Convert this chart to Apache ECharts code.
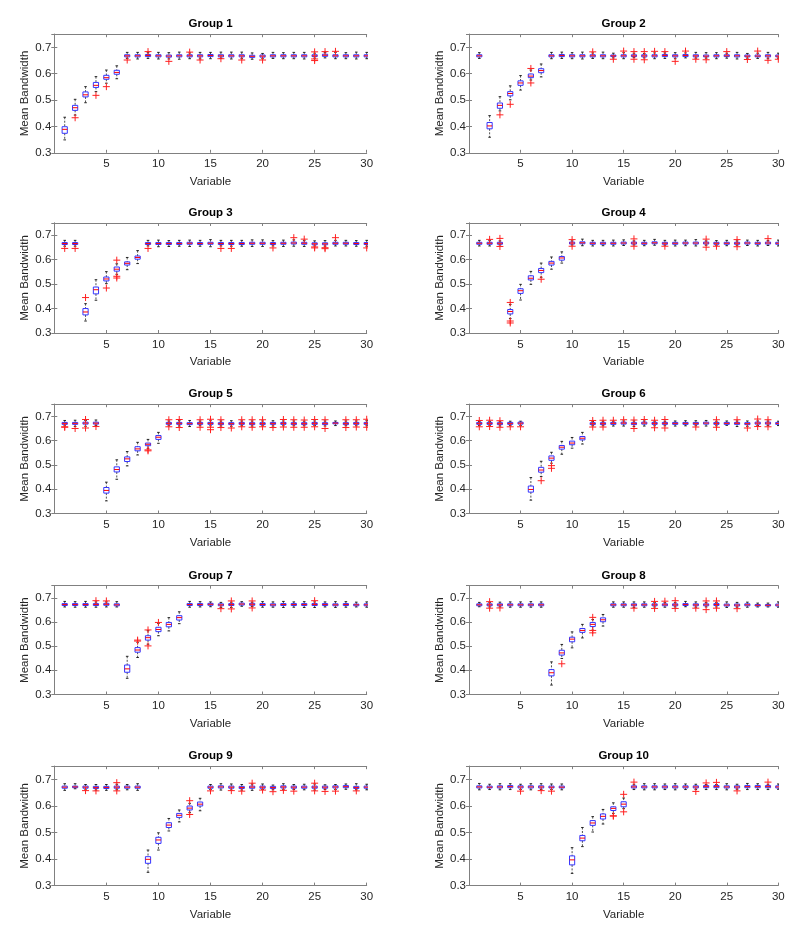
<!DOCTYPE html>
<html><head><meta charset="utf-8">
<script src="https://cdn.jsdelivr.net/npm/echarts@6/dist/echarts.min.js"></script>
<style>html,body{margin:0;padding:0;background:#fff}#c{width:810px;height:941px}</style>
</head><body><div id="c"></div><script>
// ---------- data ----------
// each box: [lowerWhisker, q1, median, q3, upperWhisker], variables 1..30
const groupTitles = ['Group 1','Group 2','Group 3','Group 4','Group 5','Group 6','Group 7','Group 8','Group 9','Group 10'];
const xTickLabels = [5, 10, 15, 20, 25, 30];
const yTickLabels = [0.3, 0.4, 0.5, 0.6, 0.7];

const g1Box = [
[0.349,0.374,0.389,0.399,0.435],[0.443,0.461,0.471,0.480,0.503],[0.490,0.512,0.520,0.531,0.551],
[0.532,0.548,0.556,0.567,0.589],[0.564,0.579,0.585,0.594,0.614],[0.581,0.598,0.605,0.613,0.630],
[0.658,0.664,0.668,0.672,0.681],[0.656,0.664,0.668,0.672,0.681],[0.658,0.665,0.669,0.673,0.680],
[0.656,0.664,0.668,0.672,0.681],[0.656,0.663,0.667,0.671,0.680],[0.655,0.664,0.668,0.672,0.682],
[0.657,0.664,0.668,0.672,0.679],[0.656,0.664,0.668,0.672,0.681],[0.657,0.665,0.669,0.673,0.681],
[0.658,0.664,0.668,0.672,0.682],[0.656,0.664,0.668,0.672,0.682],[0.657,0.664,0.668,0.672,0.682],
[0.655,0.662,0.666,0.670,0.679],[0.657,0.663,0.667,0.671,0.677],[0.658,0.664,0.668,0.672,0.681],
[0.657,0.664,0.668,0.672,0.680],[0.657,0.664,0.668,0.672,0.681],[0.656,0.664,0.668,0.672,0.681],
[0.659,0.665,0.668,0.672,0.678],[0.660,0.666,0.670,0.674,0.681],[0.657,0.664,0.668,0.672,0.681],
[0.657,0.664,0.668,0.672,0.680],[0.656,0.664,0.668,0.672,0.682],[0.657,0.664,0.668,0.672,0.681]];
const g1Out = [[2,0.433],[4,0.518],[5,0.551],[7,0.652],[9,0.684],[11,0.647],[13,0.682],[14,0.652],[16,0.657],
[18,0.652],[20,0.652],[25,0.683],[25,0.656],[25,0.650],[26,0.684],[27,0.685]];

const g2Box = [
[0.658,0.664,0.668,0.672,0.680],[0.359,0.391,0.402,0.415,0.441],[0.459,0.469,0.480,0.489,0.513],
[0.501,0.516,0.525,0.532,0.554],[0.538,0.556,0.565,0.573,0.593],[0.576,0.585,0.591,0.599,0.614],
[0.588,0.604,0.612,0.619,0.637],[0.657,0.664,0.668,0.672,0.681],[0.658,0.665,0.669,0.673,0.682],
[0.657,0.664,0.668,0.672,0.680],[0.656,0.664,0.668,0.672,0.682],[0.658,0.664,0.668,0.672,0.679],
[0.657,0.664,0.668,0.672,0.682],[0.660,0.665,0.668,0.671,0.678],[0.657,0.664,0.668,0.672,0.680],
[0.661,0.665,0.668,0.672,0.678],[0.660,0.664,0.668,0.672,0.677],[0.657,0.664,0.668,0.672,0.679],
[0.658,0.665,0.669,0.673,0.679],[0.657,0.664,0.668,0.672,0.680],[0.660,0.665,0.669,0.673,0.679],
[0.659,0.664,0.668,0.672,0.681],[0.659,0.664,0.667,0.671,0.680],[0.657,0.664,0.668,0.672,0.680],
[0.659,0.665,0.668,0.672,0.678],[0.656,0.664,0.668,0.672,0.681],[0.659,0.664,0.667,0.671,0.677],
[0.658,0.664,0.667,0.671,0.678],[0.657,0.664,0.668,0.672,0.681],[0.659,0.664,0.667,0.671,0.678]];
const g2Out = [[3,0.444],[4,0.484],[6,0.620],[6,0.565],[12,0.683],[14,0.655],[15,0.686],[16,0.684],[16,0.655],
[17,0.684],[17,0.653],[18,0.685],[19,0.684],[20,0.647],[21,0.686],[22,0.655],[23,0.653],[25,0.684],
[27,0.654],[28,0.686],[29,0.651],[30,0.655]];

const g3Box = [
[0.655,0.662,0.666,0.670,0.679],[0.655,0.662,0.666,0.670,0.679],[0.349,0.374,0.386,0.400,0.420],
[0.434,0.460,0.477,0.488,0.518],[0.502,0.513,0.521,0.529,0.551],[0.540,0.553,0.561,0.570,0.583],
[0.559,0.578,0.585,0.591,0.609],[0.584,0.602,0.609,0.615,0.637],[0.656,0.662,0.666,0.670,0.679],
[0.653,0.662,0.666,0.670,0.680],[0.654,0.662,0.666,0.670,0.678],[0.655,0.662,0.666,0.670,0.679],
[0.654,0.663,0.667,0.671,0.680],[0.655,0.662,0.666,0.670,0.679],[0.653,0.663,0.667,0.671,0.682],
[0.656,0.662,0.666,0.670,0.679],[0.655,0.662,0.666,0.670,0.679],[0.655,0.662,0.666,0.670,0.679],
[0.654,0.663,0.667,0.671,0.681],[0.654,0.663,0.667,0.671,0.681],[0.656,0.662,0.666,0.670,0.678],
[0.654,0.663,0.667,0.671,0.680],[0.655,0.664,0.668,0.672,0.681],[0.654,0.663,0.667,0.671,0.679],
[0.656,0.661,0.665,0.669,0.677],[0.655,0.661,0.665,0.669,0.678],[0.656,0.663,0.667,0.671,0.679],
[0.656,0.663,0.667,0.671,0.679],[0.655,0.662,0.666,0.670,0.678],[0.655,0.662,0.666,0.670,0.679]];
const g3Out = [[1,0.646],[2,0.646],[3,0.445],[5,0.484],[6,0.598],[6,0.525],[6,0.532],[9,0.646],[16,0.646],
[17,0.646],[21,0.648],[23,0.690],[24,0.684],[25,0.652],[25,0.648],[26,0.645],[26,0.649],[27,0.690],[30,0.648]];

const g4Box = [
[0.656,0.663,0.667,0.671,0.679],[0.656,0.663,0.667,0.671,0.678],[0.660,0.663,0.667,0.671,0.677],
[0.359,0.378,0.388,0.396,0.417],[0.435,0.462,0.473,0.481,0.499],[0.499,0.517,0.524,0.534,0.552],
[0.528,0.547,0.556,0.564,0.586],[0.561,0.578,0.586,0.593,0.611],[0.586,0.598,0.607,0.613,0.632],
[0.660,0.664,0.668,0.672,0.677],[0.657,0.665,0.669,0.673,0.684],[0.656,0.663,0.667,0.671,0.679],
[0.657,0.663,0.667,0.671,0.679],[0.656,0.663,0.667,0.671,0.680],[0.658,0.664,0.668,0.672,0.681],
[0.660,0.664,0.668,0.672,0.677],[0.657,0.663,0.667,0.671,0.679],[0.659,0.665,0.669,0.673,0.683],
[0.659,0.663,0.667,0.671,0.679],[0.656,0.663,0.667,0.671,0.680],[0.657,0.664,0.668,0.672,0.680],
[0.656,0.664,0.668,0.672,0.682],[0.659,0.664,0.668,0.672,0.677],[0.659,0.663,0.667,0.671,0.678],
[0.657,0.663,0.667,0.671,0.679],[0.659,0.663,0.667,0.671,0.677],[0.658,0.664,0.668,0.672,0.680],
[0.656,0.663,0.667,0.671,0.679],[0.658,0.664,0.668,0.672,0.678],[0.656,0.663,0.667,0.671,0.680]];
const g4Out = [[2,0.683],[3,0.687],[3,0.654],[4,0.425],[4,0.349],[4,0.341],[7,0.520],[10,0.682],[10,0.655],
[16,0.685],[16,0.655],[19,0.655],[23,0.684],[23,0.651],[24,0.655],[26,0.682],[26,0.653],[29,0.686]];

const g5Box = [
[0.661,0.667,0.671,0.675,0.683],[0.658,0.667,0.671,0.675,0.684],[0.659,0.668,0.672,0.676,0.683],
[0.662,0.668,0.672,0.676,0.685],[0.352,0.384,0.395,0.407,0.429],[0.441,0.471,0.481,0.492,0.521],
[0.496,0.514,0.525,0.533,0.555],[0.541,0.558,0.566,0.575,0.593],[0.568,0.579,0.585,0.590,0.605],
[0.589,0.605,0.614,0.621,0.634],[0.661,0.667,0.671,0.675,0.681],[0.660,0.667,0.671,0.675,0.682],
[0.658,0.666,0.670,0.674,0.683],[0.661,0.667,0.671,0.675,0.681],[0.661,0.667,0.671,0.675,0.682],
[0.660,0.666,0.670,0.674,0.681],[0.659,0.666,0.670,0.674,0.682],[0.661,0.667,0.671,0.675,0.681],
[0.660,0.666,0.670,0.674,0.681],[0.661,0.666,0.670,0.674,0.681],[0.660,0.667,0.671,0.675,0.682],
[0.661,0.667,0.671,0.675,0.681],[0.661,0.666,0.670,0.674,0.681],[0.661,0.666,0.670,0.674,0.680],
[0.662,0.667,0.671,0.675,0.681],[0.660,0.666,0.670,0.674,0.681],[0.662,0.669,0.672,0.675,0.681],
[0.661,0.666,0.670,0.674,0.681],[0.661,0.667,0.671,0.675,0.681],[0.661,0.667,0.671,0.675,0.682]];
const g5Out = [[1,0.657],[1,0.655],[2,0.650],[3,0.687],[3,0.652],[4,0.658],[9,0.562],[9,0.558],[11,0.686],[11,0.657],
[12,0.687],[12,0.654],[14,0.686],[14,0.655],[15,0.688],[15,0.655],[15,0.645],[16,0.686],[16,0.654],[17,0.652],
[18,0.686],[18,0.657],[19,0.686],[19,0.655],[20,0.686],[20,0.657],[21,0.654],[22,0.687],[22,0.656],[23,0.686],
[23,0.655],[24,0.685],[24,0.655],[25,0.687],[25,0.657],[26,0.686],[26,0.650],[28,0.686],[28,0.654],[29,0.686],
[29,0.656],[30,0.688],[30,0.655]];

const g6Box = [
[0.662,0.667,0.671,0.675,0.679],[0.663,0.667,0.671,0.675,0.679],[0.660,0.666,0.670,0.674,0.678],
[0.662,0.667,0.671,0.675,0.680],[0.662,0.668,0.672,0.676,0.680],[0.355,0.388,0.399,0.413,0.448],
[0.452,0.470,0.479,0.490,0.515],[0.507,0.519,0.528,0.537,0.552],[0.544,0.565,0.573,0.580,0.597],
[0.569,0.583,0.590,0.598,0.613],[0.586,0.603,0.610,0.617,0.634],[0.661,0.666,0.670,0.674,0.679],
[0.661,0.666,0.670,0.674,0.680],[0.660,0.667,0.671,0.675,0.680],[0.660,0.668,0.672,0.676,0.681],
[0.658,0.666,0.670,0.674,0.681],[0.660,0.668,0.672,0.676,0.681],[0.661,0.667,0.671,0.675,0.680],
[0.661,0.667,0.671,0.675,0.680],[0.660,0.667,0.671,0.675,0.681],[0.661,0.667,0.671,0.675,0.682],
[0.661,0.667,0.671,0.675,0.682],[0.660,0.668,0.672,0.676,0.683],[0.661,0.667,0.671,0.675,0.680],
[0.663,0.667,0.671,0.675,0.681],[0.658,0.667,0.671,0.675,0.681],[0.659,0.666,0.670,0.674,0.681],
[0.662,0.668,0.672,0.676,0.681],[0.662,0.668,0.672,0.676,0.681],[0.662,0.667,0.671,0.675,0.680]];
const g6Out = [[1,0.683],[1,0.657],[2,0.684],[2,0.658],[3,0.682],[3,0.655],[4,0.657],[5,0.657],[7,0.435],[8,0.497],
[8,0.486],[12,0.683],[12,0.656],[13,0.684],[13,0.656],[14,0.684],[15,0.686],[16,0.685],[16,0.650],[17,0.687],
[18,0.684],[18,0.653],[19,0.687],[19,0.652],[22,0.656],[24,0.686],[24,0.655],[26,0.686],[27,0.652],[28,0.689],
[28,0.658],[29,0.686],[29,0.657]];

const g7Box = [
[0.662,0.668,0.672,0.676,0.685],[0.661,0.668,0.672,0.676,0.684],[0.661,0.668,0.672,0.676,0.685],
[0.661,0.668,0.672,0.676,0.683],[0.662,0.669,0.673,0.677,0.683],[0.662,0.667,0.671,0.675,0.684],
[0.367,0.392,0.406,0.422,0.458],[0.453,0.475,0.484,0.494,0.516],[0.508,0.525,0.535,0.543,0.564],
[0.543,0.560,0.569,0.578,0.594],[0.563,0.580,0.590,0.598,0.618],[0.593,0.608,0.618,0.626,0.642],
[0.661,0.668,0.672,0.676,0.685],[0.662,0.668,0.672,0.676,0.684],[0.663,0.669,0.673,0.677,0.683],
[0.660,0.667,0.671,0.675,0.681],[0.660,0.668,0.672,0.676,0.682],[0.665,0.670,0.674,0.678,0.684],
[0.664,0.669,0.673,0.677,0.682],[0.661,0.668,0.672,0.676,0.684],[0.661,0.667,0.671,0.675,0.683],
[0.660,0.668,0.672,0.676,0.685],[0.661,0.668,0.672,0.676,0.683],[0.660,0.668,0.672,0.676,0.684],
[0.660,0.668,0.672,0.676,0.683],[0.662,0.668,0.672,0.676,0.683],[0.660,0.667,0.671,0.675,0.684],
[0.661,0.668,0.672,0.676,0.684],[0.662,0.667,0.671,0.674,0.682],[0.661,0.667,0.671,0.675,0.683]];
const g7Out = [[4,0.688],[5,0.687],[8,0.525],[8,0.521],[9,0.567],[9,0.501],[10,0.598],[16,0.655],[17,0.687],
[17,0.654],[19,0.687],[19,0.658],[25,0.688]];

const g8Box = [
[0.663,0.667,0.671,0.675,0.681],[0.662,0.667,0.671,0.675,0.681],[0.662,0.667,0.671,0.675,0.682],
[0.661,0.667,0.671,0.675,0.683],[0.661,0.667,0.671,0.675,0.683],[0.661,0.667,0.671,0.675,0.684],
[0.661,0.667,0.671,0.675,0.683],[0.339,0.377,0.390,0.403,0.435],[0.449,0.463,0.472,0.483,0.507],
[0.493,0.518,0.529,0.537,0.559],[0.534,0.557,0.565,0.573,0.590],[0.566,0.581,0.590,0.598,0.610],
[0.583,0.601,0.609,0.617,0.631],[0.661,0.667,0.671,0.675,0.683],[0.661,0.667,0.671,0.675,0.683],
[0.660,0.667,0.671,0.675,0.683],[0.661,0.667,0.671,0.675,0.683],[0.662,0.667,0.671,0.675,0.680],
[0.661,0.667,0.671,0.675,0.680],[0.662,0.667,0.671,0.675,0.681],[0.663,0.668,0.672,0.676,0.685],
[0.661,0.667,0.671,0.675,0.683],[0.662,0.667,0.671,0.675,0.681],[0.662,0.668,0.672,0.676,0.681],
[0.660,0.666,0.670,0.674,0.683],[0.661,0.666,0.670,0.674,0.681],[0.661,0.667,0.671,0.675,0.682],
[0.662,0.666,0.669,0.672,0.678],[0.662,0.666,0.669,0.672,0.678],[0.661,0.666,0.670,0.674,0.683]];
const g8Out = [[2,0.684],[2,0.657],[3,0.658],[9,0.427],[12,0.619],[12,0.565],[12,0.555],[16,0.657],[18,0.685],
[18,0.656],[19,0.686],[20,0.688],[20,0.656],[22,0.657],[23,0.687],[23,0.651],[24,0.687],[24,0.657],[26,0.655]];

const g9Box = [
[0.659,0.667,0.671,0.675,0.684],[0.665,0.669,0.672,0.675,0.684],[0.661,0.667,0.671,0.675,0.681],
[0.660,0.666,0.670,0.674,0.681],[0.659,0.666,0.670,0.674,0.681],[0.661,0.667,0.671,0.675,0.682],
[0.661,0.667,0.671,0.675,0.681],[0.659,0.667,0.671,0.675,0.684],[0.350,0.384,0.399,0.409,0.434],
[0.434,0.459,0.472,0.482,0.499],[0.506,0.519,0.528,0.537,0.553],[0.540,0.557,0.565,0.572,0.585],
[0.575,0.585,0.592,0.600,0.610],[0.582,0.600,0.607,0.615,0.629],[0.662,0.667,0.671,0.675,0.681],
[0.660,0.668,0.672,0.676,0.684],[0.660,0.667,0.671,0.675,0.683],[0.660,0.666,0.670,0.674,0.681],
[0.659,0.667,0.671,0.675,0.683],[0.662,0.667,0.671,0.675,0.683],[0.661,0.666,0.670,0.674,0.679],
[0.663,0.668,0.672,0.676,0.684],[0.662,0.667,0.671,0.675,0.681],[0.661,0.667,0.671,0.675,0.682],
[0.660,0.667,0.671,0.675,0.683],[0.662,0.667,0.671,0.675,0.680],[0.662,0.668,0.672,0.676,0.681],
[0.663,0.669,0.673,0.677,0.683],[0.661,0.666,0.670,0.674,0.684],[0.661,0.667,0.671,0.675,0.682]];
const g9Out = [[3,0.658],[4,0.657],[6,0.688],[6,0.657],[13,0.620],[13,0.568],[15,0.657],[17,0.658],[18,0.656],
[19,0.686],[20,0.660],[21,0.654],[22,0.659],[23,0.656],[25,0.686],[25,0.657],[26,0.655],[27,0.656],[29,0.657]];

const g10Box = [
[0.661,0.668,0.672,0.676,0.685],[0.662,0.668,0.671,0.675,0.682],[0.661,0.668,0.672,0.676,0.684],
[0.662,0.669,0.673,0.677,0.684],[0.662,0.668,0.672,0.676,0.682],[0.661,0.668,0.672,0.676,0.684],
[0.662,0.668,0.672,0.676,0.684],[0.662,0.668,0.671,0.675,0.683],[0.661,0.668,0.671,0.675,0.683],
[0.346,0.378,0.397,0.412,0.443],[0.447,0.469,0.479,0.489,0.519],[0.502,0.527,0.536,0.545,0.560],
[0.532,0.551,0.561,0.570,0.587],[0.572,0.583,0.591,0.597,0.612],[0.590,0.597,0.607,0.616,0.630],
[0.662,0.668,0.672,0.676,0.682],[0.661,0.668,0.672,0.676,0.684],[0.661,0.668,0.672,0.676,0.684],
[0.662,0.668,0.672,0.676,0.683],[0.661,0.668,0.672,0.676,0.684],[0.662,0.668,0.672,0.676,0.683],
[0.662,0.668,0.672,0.676,0.682],[0.662,0.669,0.673,0.677,0.681],[0.662,0.669,0.673,0.677,0.681],
[0.661,0.668,0.672,0.676,0.684],[0.663,0.668,0.672,0.676,0.682],[0.662,0.669,0.673,0.677,0.685],
[0.662,0.669,0.673,0.677,0.684],[0.662,0.669,0.673,0.677,0.682],[0.663,0.668,0.672,0.676,0.683]];
const g10Out = [[5,0.656],[7,0.658],[8,0.656],[14,0.562],[14,0.563],[15,0.644],[15,0.578],[16,0.690],[22,0.655],
[23,0.687],[24,0.689],[26,0.657],[29,0.690]];

const allBoxes = [g1Box,g2Box,g3Box,g4Box,g5Box,g6Box,g7Box,g8Box,g9Box,g10Box];
const allOutliers = [g1Out,g2Out,g3Out,g4Out,g5Out,g6Out,g7Out,g8Out,g9Out,g10Out];

// ---------- layout ----------
const colLeft = [54.3, 469];
const colWidth = [312.4, 309.3];
const rowTop = [34.2, 223.0, 404.2, 585.7, 766.2];
const rowHeight = [118.6, 110.0, 109.3, 108.8, 119.4];
const FONT = '"Liberation Sans", Arial, Helvetica, sans-serif';
const AXC = '#808080';
const TXT = '#262626';

function renderBox(params, api) {
  const x = api.value(0);
  const lo = api.coord([x, api.value(1)]);
  const q1 = api.coord([x, api.value(2)]);
  const md = api.coord([x, api.value(3)]);
  const q3 = api.coord([x, api.value(4)]);
  const hi = api.coord([x, api.value(5)]);
  const w = api.size([0.5, 0])[0];
  const cx = lo[0], hw = w / 2, cw = w / 4;
  const wStyle = {stroke: '#222', lineWidth: 0.8, lineDash: [2, 1.5]};
  const cStyle = {stroke: '#111', lineWidth: 0.9};
  return {type: 'group', children: [
    {type: 'line', shape: {x1: cx, y1: hi[1], x2: cx, y2: q3[1]}, style: wStyle},
    {type: 'line', shape: {x1: cx, y1: q1[1], x2: cx, y2: lo[1]}, style: wStyle},
    {type: 'line', shape: {x1: cx - cw, y1: hi[1], x2: cx + cw, y2: hi[1]}, style: cStyle},
    {type: 'line', shape: {x1: cx - cw, y1: lo[1], x2: cx + cw, y2: lo[1]}, style: cStyle},
    {type: 'rect', shape: {x: cx - hw, y: q3[1], width: w, height: q1[1] - q3[1]}, style: {fill: 'none', stroke: '#3535ff', lineWidth: 1}},
    {type: 'line', shape: {x1: cx - hw, y1: md[1], x2: cx + hw, y2: md[1]}, style: {stroke: '#ff0000', lineWidth: 1}}
  ]};
}
function renderPlus(params, api) {
  const p = api.coord([api.value(0), api.value(1)]);
  const s = 3.5;
  const st = {stroke: '#ff2020', lineWidth: 1};
  return {type: 'group', children: [
    {type: 'line', shape: {x1: p[0] - s, y1: p[1], x2: p[0] + s, y2: p[1]}, style: st},
    {type: 'line', shape: {x1: p[0], y1: p[1] - s, x2: p[0], y2: p[1] + s}, style: st}
  ]};
}

const option = {backgroundColor: '#fff', animation: false, title: [], grid: [], xAxis: [], yAxis: [], series: []};
const tickStyle = {show: true, inside: true, length: 3, lineStyle: {color: AXC, width: 1}};
const lineStyle = {show: true, lineStyle: {color: AXC, width: 1}};

for (let g = 0; g < 10; g++) {
  const row = Math.floor(g / 2), col = g % 2;
  const left = colLeft[col], width = colWidth[col], top = rowTop[row], height = rowHeight[row];
  option.grid.push({left: left, top: top, width: width, height: height, containLabel: false, show: false});
  option.title.push({text: groupTitles[g], left: left + width / 2, textAlign: 'center', top: top - 16.5, padding: 0,
    textStyle: {fontFamily: FONT, fontSize: 11.5, fontWeight: 'bold', color: '#000', lineHeight: 13}});
  const xBase = {type: 'value', gridIndex: g, min: 0, max: 30, interval: 5, splitLine: {show: false},
    axisLine: lineStyle, axisTick: tickStyle};
  option.xAxis.push(Object.assign({}, xBase, {position: 'bottom', name: 'Variable', nameLocation: 'middle', nameGap: 22.4,
    nameTextStyle: {fontFamily: FONT, fontSize: 11.5, color: TXT, lineHeight: 13},
    axisLabel: {show: true, margin: 5, fontFamily: FONT, fontSize: 11.5, color: TXT, lineHeight: 13,
      formatter: v => (xTickLabels.indexOf(Math.round(v)) >= 0 && Math.abs(v - Math.round(v)) < 1e-6) ? String(Math.round(v)) : ''}}));
  option.xAxis.push(Object.assign({}, xBase, {position: 'top', axisLabel: {show: false}}));
  const yBase = {type: 'value', gridIndex: g, min: 0.3, max: 0.75, interval: 0.1, splitLine: {show: false},
    axisLine: lineStyle, axisTick: tickStyle};
  option.yAxis.push(Object.assign({}, yBase, {position: 'left', name: 'Mean Bandwidth', nameLocation: 'middle', nameGap: 22.5,
    nameTextStyle: {fontFamily: FONT, fontSize: 11.5, color: TXT, lineHeight: 13},
    axisLabel: {show: true, margin: 3, fontFamily: FONT, fontSize: 11.5, color: TXT,
      formatter: v => {
        const hit = yTickLabels.find(t => Math.abs(t - v) < 1e-6);
        return hit !== undefined ? hit.toFixed(1) : '';
      }}}));
  option.yAxis.push(Object.assign({}, yBase, {position: 'right', axisLabel: {show: false}}));

  option.series.push({type: 'custom', xAxisIndex: 2 * g, yAxisIndex: 2 * g, clip: true,
    renderItem: renderBox, encode: {x: 0, y: [1, 2, 3, 4, 5]},
    data: allBoxes[g].map((b, i) => [i + 1].concat(b))});
  option.series.push({type: 'custom', xAxisIndex: 2 * g, yAxisIndex: 2 * g, clip: true,
    renderItem: renderPlus, encode: {x: 0, y: 1}, z: 3,
    data: allOutliers[g].map(o => [o[0], o[1]])});
}

const chart = echarts.init(document.getElementById('c'), null, {renderer: 'canvas'});
chart.setOption(option);
</script></body></html>
